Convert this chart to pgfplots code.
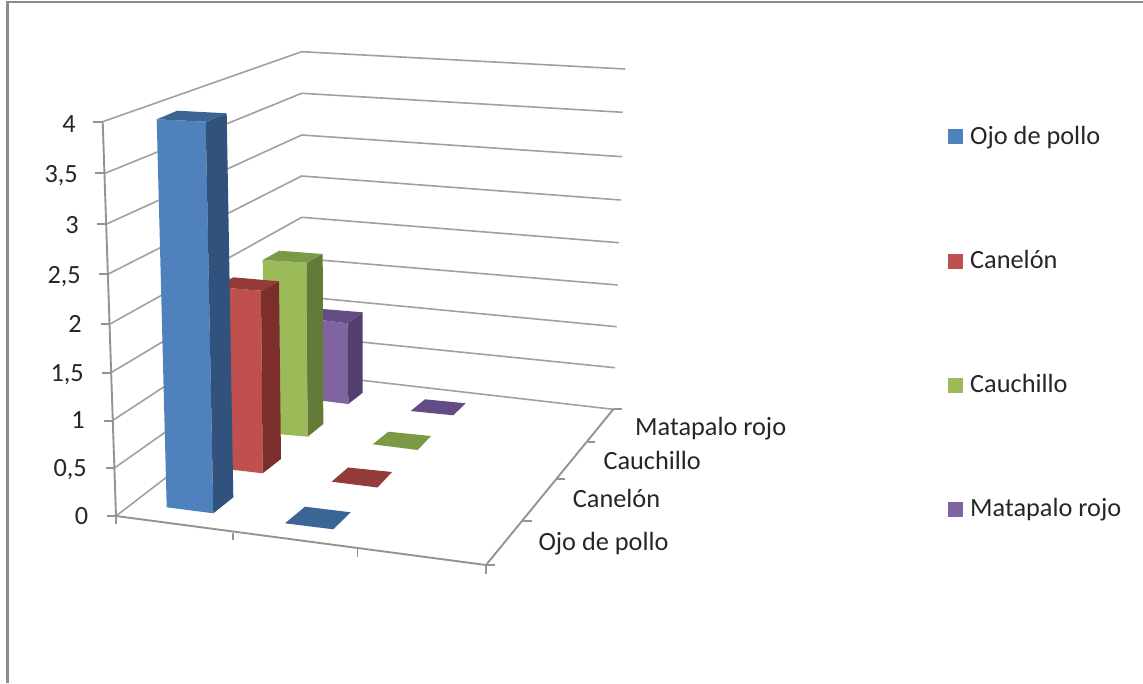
\documentclass[border=0pt]{standalone}
\usepackage{pgfplots}
\pgfplotsset{compat=1.18}
\usepackage{fontspec}
\setmainfont{Carlito}
\definecolor{framegray}{HTML}{8C8C8C}
\definecolor{gridgray}{HTML}{A0A0A0}
\definecolor{axisgray}{HTML}{939393}
\definecolor{labelink}{HTML}{262626}
\definecolor{bluefront}{HTML}{4F81BD}
\definecolor{blueside}{HTML}{30527D}
\definecolor{bluetop}{HTML}{3A6595}
\definecolor{redfront}{HTML}{C0504D}
\definecolor{redside}{HTML}{7B2E2C}
\definecolor{redtop}{HTML}{933B39}
\definecolor{greenfront}{HTML}{9BBB59}
\definecolor{greenside}{HTML}{637A38}
\definecolor{greentop}{HTML}{7A9A46}
\definecolor{purplefront}{HTML}{8064A2}
\definecolor{purpleside}{HTML}{523E6F}
\definecolor{purpletop}{HTML}{634C85}
% drawing helpers: one wall or floor line, one filled face
\newcommand{\wall}[1]{\addplot[gridgray,line width=1.6pt] coordinates {#1};}
\newcommand{\edge}[1]{\addplot[axisgray,line width=1.9pt] coordinates {#1};}
\newcommand{\face}[2]{\addplot[fill=#1,draw=none] coordinates {#2} -- cycle;}
% text helpers: right-aligned value label, left-aligned name label
\newcommand{\vlabel}[3]{\node[anchor=base east,inner sep=0pt,text=labelink] at (axis cs:#1,#2) {\fontsize{26.3}{28}\selectfont #3};}
\newcommand{\nlabel}[3]{\node[anchor=base west,inner sep=0pt,text=labelink] at (axis cs:#1,#2) {\fontsize{26.3}{28}\selectfont #3};}
\begin{document}
\begin{tikzpicture}
\begin{axis}[
  scale only axis, width=1143pt, height=683pt,
  xmin=0, xmax=1143, ymin=0, ymax=683, y dir=reverse,
  axis lines=none, no markers,
]
% outer frame
\addplot[framegray,line width=2.5pt] coordinates {(7.3,683) (7.3,2.2) (1143,2.2)};

% side wall and back wall gridlines, value 4 down to 0
\wall{(102.7,121.7) (301.7,51.7) (625,69)}
\wall{(105,173.3) (301.7,93.3) (622.7,112.3)}
\wall{(106.7,224) (301.7,135) (622,156.7)}
\wall{(107.7,274.3) (301.7,176) (620.7,200)}
\wall{(110,324) (301.7,217.3) (619,242.7)}
\wall{(111,372.7) (301.7,258.5) (617.7,285)}
\wall{(112.3,420.7) (301.7,296.6) (616.7,326.7)}
\wall{(114,468.3) (301.7,336) (615,367.7)}
\wall{(116,516) (301.7,373.4) (613.3,409.3)}

% value axis and its ticks
\edge{(102.7,121.7) (116,516)}
\edge{(93.3,121.7) (102.7,121.7)}
\edge{(95,173.3) (105,173.3)}
\edge{(97.3,224) (106.7,224)}
\edge{(99,274.3) (107.7,274.3)}
\edge{(100.7,324) (110,324)}
\edge{(101.7,372.7) (111,372.7)}
\edge{(104,420.7) (112.3,420.7)}
\edge{(105.7,468.3) (114,468.3)}
\edge{(106.7,516) (116,516)}

% floor edges and ticks
\edge{(116,516) (486,565) (613.3,409.3)}
\edge{(116,516) (116,524)}
\edge{(233.3,533) (233.3,540)}
\edge{(357.5,548) (357.5,556.5)}
\edge{(486,565) (486,574)}
\edge{(486,565) (495,565)}
\edge{(523.3,520.7) (531.7,520.7)}
\edge{(556.7,479.3) (565,479.3)}
\edge{(588.3,442.3) (595,442.3)}
\edge{(613.3,409.3) (621.7,409.3)}

% zero-height bars lying on the floor
\face{purpletop}{(410.7,411) (425,399.3) (465.7,403.3) (453.3,415.3)}
\face{greentop}{(372.7,444.3) (388.3,431.7) (431,436) (417.7,450)}
\face{redtop}{(331.7,481.7) (348,467.5) (392,472) (377.5,487.5)}
\face{bluetop}{(285,523.3) (305,506.7) (350.7,512.3) (333.3,529.3)}

% Matapalo rojo column
\face{purplefront}{(305,318) (347.7,323.3) (348.3,404) (308,399)}
\face{purpleside}{(347.7,323.3) (362.7,312.3) (362.7,392.7) (348.3,404)}
\face{purpletop}{(305,318) (322.7,309) (362.7,312.3) (347.7,323.3)}

% Cauchillo column
\face{greenfront}{(262.7,260) (306.7,262.7) (307.7,436.7) (265,433)}
\face{greenside}{(306.7,262.7) (322.7,254) (323.3,424) (307.7,436.7)}
\face{greentop}{(262.7,260) (279.3,250.7) (322.7,254) (306.7,262.7)}

% Canelón column
\face{redfront}{(216,287) (261,290.7) (262.7,473.3) (222,468.5)}
\face{redside}{(261,290.7) (279,281.3) (281,459) (262.7,473.3)}
\face{redtop}{(216,287) (233.3,277.3) (279,281.3) (261,290.7)}

% Ojo de pollo column
\face{bluefront}{(156.7,119.3) (205.7,121.7) (213.3,513.3) (166.7,507.3)}
\face{blueside}{(205.7,121.7) (226.7,113.3) (233.3,497.3) (213.3,513.3)}
\face{bluetop}{(156.7,119.3) (177.3,110.7) (226.7,113.3) (205.7,121.7)}

% legend swatches
\face{bluefront}{(947.7,129.3) (963.3,129.3) (963.3,144.3) (947.7,144.3)}
\face{redfront}{(947.7,254) (963.3,254) (963.3,268.5) (947.7,268.5)}
\face{greenfront}{(947.7,378) (963.3,378) (963.3,392.5) (947.7,392.5)}
\face{purplefront}{(947.7,502) (963.3,502) (963.3,517) (947.7,517)}

% value labels
\vlabel{76}{132.5}{4}
\vlabel{78}{182.5}{3,5}
\vlabel{79}{233}{3}
\vlabel{81}{283}{2,5}
\vlabel{82}{332}{2}
\vlabel{84}{381}{1,5}
\vlabel{85}{428}{1}
\vlabel{87}{476}{0,5}
\vlabel{88.3}{524.5}{0}

% depth axis category labels
\nlabel{635}{435}{Matapalo rojo}
\nlabel{603.3}{469.3}{Cauchillo}
\nlabel{572.7}{507.7}{Canelón}
\nlabel{538.3}{550.7}{Ojo de pollo}

% legend entries
\nlabel{970}{144.3}{Ojo de pollo}
\nlabel{970}{268.3}{Canelón}
\nlabel{970}{392.5}{Cauchillo}
\nlabel{970}{516.5}{Matapalo rojo}
\end{axis}
\pgfresetboundingbox
\path[use as bounding box] (0,0) rectangle (1143pt,683pt);
\end{tikzpicture}
\end{document}
